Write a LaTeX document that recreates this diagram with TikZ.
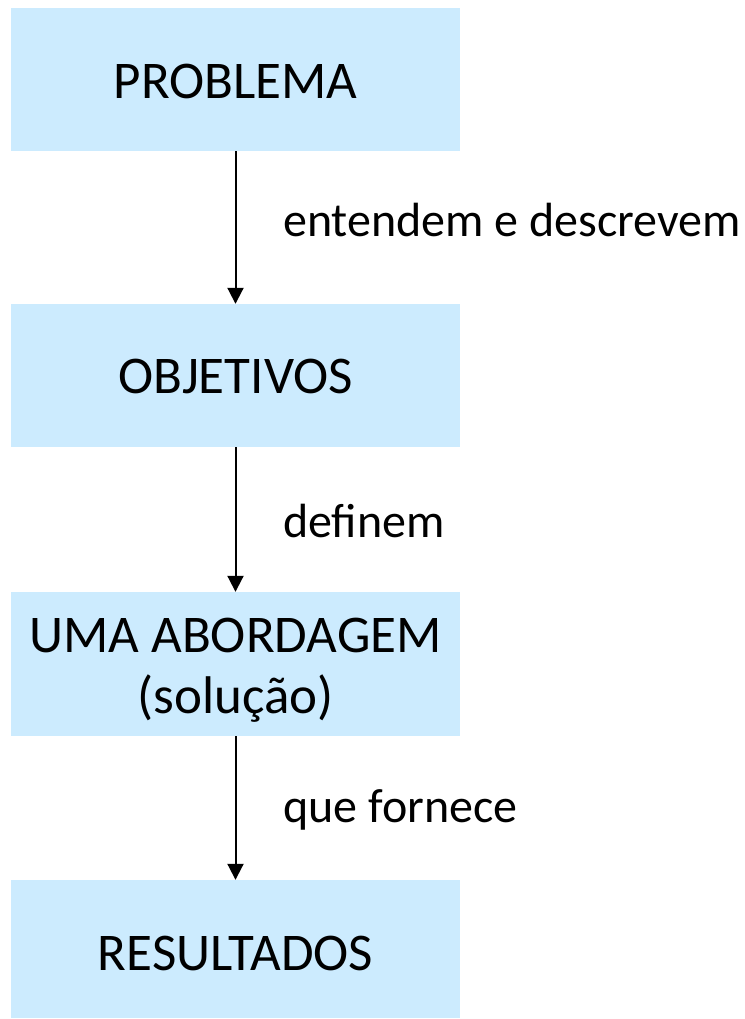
\documentclass[tikz,border=0pt]{standalone}
\usepackage{fontspec}
\setmainfont{Carlito}
\usetikzlibrary{arrows.meta}
\definecolor{boxblue}{RGB}{204,235,254}
\begin{document}
\begin{tikzpicture}[x=1pt,y=-1pt,
  box/.style={fill=boxblue,draw=none,minimum width=449pt,inner sep=0pt,align=center,text depth=0pt,font=\fontsize{53}{61}\selectfont},
  lbl/.style={anchor=base west,inner sep=0pt,font=\fontsize{48}{56}\selectfont},
  conn/.style={line width=2pt,-{Triangle[width=16pt,length=16pt]}}]
\useasboundingbox (0,0) rectangle (744,1019);
\node[box,minimum height=143pt,text height=39pt] (p) at (235.5,79.5) {PROBLEMA};
\node[box,minimum height=143pt,text height=35.6pt] (o) at (235.5,375.5) {OBJETIVOS};
\node[box,minimum height=144pt,text height=98pt] (u) at (235.5,664) {UMA ABORDAGEM\\(solução)};
\node[box,minimum height=138pt,text height=42pt] (r) at (235.5,949) {RESULTADOS};
\node[lbl] (l1) at (283,236.7) {entendem e descrevem};
\node[lbl] (l2) at (283,537.7) {definem};
\node[lbl] (l3) at (283,822.7) {que fornece};
\draw[conn] (p.south) -- (o.north);
\draw[conn] (o.south) -- (u.north);
\draw[conn] (u.south) -- (r.north);
\end{tikzpicture}
\end{document}
